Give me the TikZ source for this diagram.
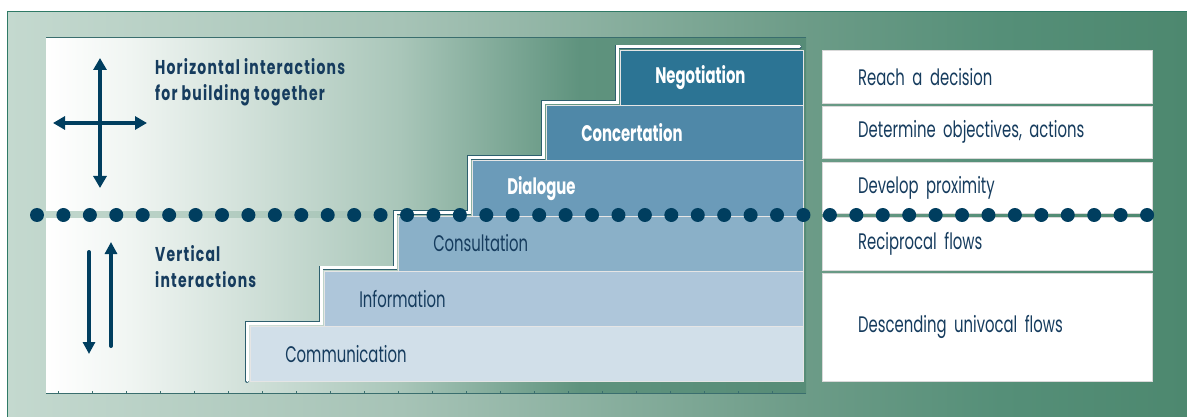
\documentclass[tikz,border=0pt]{standalone}
\usepackage{fontspec}
\usepackage{tikz}
\usetikzlibrary{arrows.meta, calc, positioning}
\setmainfont{Poppins}[FakeStretch=0.66]
\newfontfamily\sidefont{Poppins}[FakeStretch=0.7, LetterSpace=6]

\definecolor{navy}{HTML}{163C5E}
\definecolor{dotblue}{HTML}{003E5F}
\definecolor{framegreen}{HTML}{2F7A66}
\definecolor{paneledge}{HTML}{3A6E6E}
\definecolor{stairedge}{HTML}{2D5F6E}
\definecolor{barA}{HTML}{2C7494}
\definecolor{barB}{HTML}{4F88A8}
\definecolor{barC}{HTML}{6B9BB9}
\definecolor{barD}{HTML}{8AB0C8}
\definecolor{barE}{HTML}{AEC6DA}
\definecolor{barF}{HTML}{D1DFE9}
\definecolor{outL}{HTML}{C4D9CF}
\definecolor{outA}{HTML}{A6C3B6}
\definecolor{outB}{HTML}{6D9C88}
\definecolor{outC}{HTML}{558F78}
\definecolor{outR}{HTML}{4D886F}
\definecolor{inA}{HTML}{F0F5F2}
\definecolor{inB}{HTML}{A9C6B9}
\definecolor{inC}{HTML}{5F937E}
\definecolor{inR}{HTML}{578C77}

% horizontal ramps, the path is mapped to 25bp--75bp
\pgfdeclarehorizontalshading{outershade}{100bp}{color(0bp)=(outL); color(25bp)=(outL); color(41.7bp)=(outA); color(58.6bp)=(outB); color(67.1bp)=(outC); color(75bp)=(outR); color(100bp)=(outR)}
\pgfdeclarehorizontalshading{innershade}{100bp}{color(0bp)=(white); color(25bp)=(white); color(30.5bp)=(inA); color(48.3bp)=(inB); color(60.1bp)=(inC); color(75bp)=(inR); color(100bp)=(inR)}

\newcommand{\boxfont}{\fontsize{22.5}{26}\selectfont}

\begin{document}
\begin{tikzpicture}[x=1pt, y=-1pt,
	stepbar/.style={draw=white!80!gray, line width=0.5pt, anchor=north west, minimum height=55.2pt,
		inner xsep=35pt, inner ysep=0pt, align=left, font=\boxfont},
	goalbox/.style={draw=black!15, fill=white, anchor=north west, inner xsep=36pt, inner ysep=0pt,
		text width=258pt, align=left, text=navy, font=\boxfont},
	sidelabel/.style={anchor=north west, align=left, text=navy, inner sep=0pt,
		font=\sidefont\fontsize{20}{26}\selectfont\bfseries},
	navyarrow/.style={dotblue, line width=4pt, line cap=round},
	stairline/.style={draw=stairedge, line width=0.7pt, double=white, double distance=3pt, line cap=round}]

	\useasboundingbox (0,0) rectangle (1187,417);

	% backgrounds
	\fill[shading=outershade] (7,12) rectangle (1187,417);
	\draw[framegreen, line width=1pt] (7,417) -- (7,12) -- (1187,12);
	\fill[shading=innershade] (46,38) rectangle (806,211);
	\fill[shading=innershade] (46,219) rectangle (806,393);
	\draw[paneledge, line width=1pt] (46,38) -- (806,38);
	\draw[paneledge, line width=1pt] (46,393) -- (806,393);
	\draw[white, line width=1.2pt] (46.5,38) -- (46.5,211) (46.5,219) -- (46.5,393);
	\foreach \t in {0,...,21}
		\draw[paneledge, line width=0.5pt] (58+34*\t,393) -- ++(0,-2.5);

	% the steps
	\foreach \name/\txt/\col/\tc/\wt [count=\i from 0] in {
		negot/Negotiation/barA/white/\bfseries,
		concert/Concertation/barB/white/\bfseries,
		dialog/Dialogue/barC/white/\bfseries,
		consult/Consultation/barD/navy/,
		inform/Information/barE/navy/,
		comm/Communication/barF/navy/} {
		\pgfmathsetmacro{\lft}{620-74*\i}
		\pgfmathsetmacro{\tw}{803-\lft-70}
		\node[stepbar, fill=\col, text=\tc, text width=\tw pt] (\name) at (\lft,50+55.2*\i) {\wt\txt};
	}

	\draw[stairline] ($(comm.south west)+(-3,-1)$) -- ($(comm.north west)+(-3,-3)$)
		-| ($(inform.north west)+(-3,-3)$) -| ($(consult.north west)+(-3,-3)$)
		-| ($(dialog.north west)+(-3,-3)$) -| ($(concert.north west)+(-3,-3)$)
		-| ($(negot.north west)+(-3,-3)$) -- ($(negot.north east)+(-4,-3)$);

	% right column
	\node[goalbox, minimum height=53pt] (decide) at (822,50) {Reach a decision};
	\node[goalbox, minimum height=52pt] (objectives) at (822,106) {Determine objectives, actions};
	\node[goalbox, minimum height=51pt] (proximity) at (822,162) {Develop proximity};
	\node[goalbox, minimum height=53pt] (reciprocal) at (822,217) {Reciprocal flows};
	\node[goalbox, minimum height=108pt] (univocal) at (822,273) {Descending univocal flows};

	% dotted divide
	\foreach \k in {0,...,42}
		\fill[dotblue] (37+26.43*\k,215) circle (7);

	% left side
	\node[sidelabel] (horiz) at (155,58) {Horizontal interactions\\for building together};
	\node[sidelabel] (vert) at (155,245) {Vertical\\interactions};

	\coordinate (crossN) at (100,58);
	\coordinate (crossS) at (100,188);
	\coordinate (crossW) at (53,123);
	\coordinate (crossE) at (147,123);
	\draw[navyarrow, {Triangle[length=12pt, width=13pt]}-{Triangle[length=12pt, width=13pt]}] (crossN) -- (crossS);
	\draw[navyarrow, {Triangle[length=12pt, width=13pt]}-{Triangle[length=12pt, width=13pt]}] (crossW) -- (crossE);

	\coordinate (downTop) at (89,252);
	\coordinate (downTip) at (89,354);
	\coordinate (upTip) at (111,242);
	\coordinate (upBot) at (111,346);
	\draw[navyarrow, -{Triangle[length=12pt, width=12pt]}] (downTop) -- (downTip);
	\draw[navyarrow, -{Triangle[length=12pt, width=12pt]}] (upBot) -- (upTip);

\end{tikzpicture}
\end{document}
